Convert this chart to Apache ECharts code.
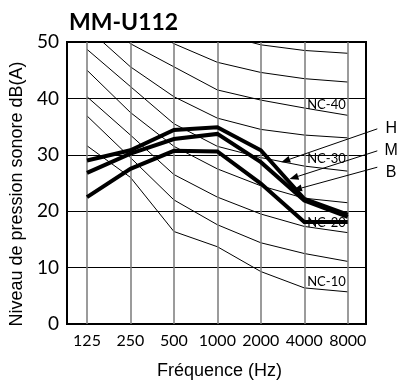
<!DOCTYPE html>
<html><head><meta charset="utf-8">
<script src="https://cdn.jsdelivr.net/npm/echarts@6/dist/echarts.min.js"></script>
<style>html,body{margin:0;padding:0;background:#fff}#c{width:403px;height:385px}</style>
</head><body><div id="c"></div>
<script>
// Categories (octave bands, Hz)
const freqs = ['125', '250', '500', '1000', '2000', '4000', '8000'];
const yTicks = [0, 10, 20, 30, 40, 50];

// Unit sound levels dB(A) – fan speeds
const speedH = [29.0, 30.8, 34.4, 34.9, 30.8, 22.2, 19.4];
const speedM = [26.8, 30.2, 32.8, 33.7, 28.7, 21.9, 19.0];
const speedB = [22.5, 27.5, 30.7, 30.6, 24.9, 18.1, 18.1];

// NC reference curves
const nc10 = [31.6, 26.0, 16.4, 13.7, 9.3, 6.4, 5.7];
const nc15 = [36.9, 29.5, 22.0, 17.6, 14.4, 12.5, 11.1];
const nc20 = [40.3, 33.5, 26.5, 22.5, 19.5, 17.3, 16.2];
const nc25 = [45.0, 37.5, 31.5, 27.5, 24.5, 22.3, 21.5];
const nc30 = [48.7, 42.1, 35.5, 31.5, 29.5, 28.0, 27.1];
const nc35 = [52.5, 45.6, 40.3, 36.5, 34.5, 33.5, 33.0];
const nc40 = [56.5, 49.7, 45.6, 41.5, 39.7, 38.3, 37.0];
const nc45 = [60.5, 54.5, 49.7, 46.4, 44.6, 43.5, 42.9];
const nc50 = [64.5, 58.5, 54.5, 51.5, 49.5, 48.5, 48.0];

// NC labels (text + anchor in data space: band index, dB)
const ncLabelNames = ['NC-40', 'NC-30', 'NC-20', 'NC-10'];
const ncLabelAt = [[5.51, 38.9], [5.51, 29.3], [5.51, 18.0], [5.51, 7.4]];

// Callouts H / M / B (data space)
const calloutNames = ['H', 'M', 'B'];
const calloutTip = [[4.47, 28.7], [4.66, 25.7], [4.74, 23.7]];
const calloutStart = [[6.68, 34.6], [6.68, 30.7], [6.68, 27.8]];
const calloutText = [[7.0, 34.6], [7.0, 30.7], [7.0, 26.9]];

const toPts = arr => arr.map((v, i) => [i, v]);

const chart = echarts.init(document.getElementById('c'), null, {renderer: 'canvas'});

const ncSets = [nc10, nc15, nc20, nc25, nc30, nc35, nc40, nc45, nc50];
const series = [];
ncSets.forEach((s, k) => {
  series.push({
    type: 'line', data: toPts(s), symbol: 'none', silent: true, z: 2,
    lineStyle: {color: '#000', width: 1}, animation: false
  });
});
// vertical grid lines & NC labels
series.push({
  type: 'line', data: [], symbol: 'none', silent: true, z: 1, animation: false,
  markLine: {
    silent: true, symbol: ['none', 'none'], animation: false,
    label: {show: false},
    lineStyle: {color: '#7a7a7a', width: 1.5, type: 'solid'},
    data: freqs.map((f, i) => ({xAxis: i}))
  },
  markPoint: {
    silent: true, animation: false, symbol: 'circle', symbolSize: 0,
    label: {show: true, position: 'inside', formatter: p => p.name,
      fontFamily: 'Lato', fontSize: 13, color: '#000'},
    data: ncLabelNames.map((n, i) => ({name: n, coord: ncLabelAt[i]}))
  }
});
[speedB, speedM, speedH].forEach(s => {
  series.push({
    type: 'line', data: toPts(s), symbol: 'none', silent: true, z: 5, animation: false,
    lineStyle: {color: '#000', width: 4, join: 'miter'}
  });
});

chart.setOption({
  animation: false,
  title: {text: 'MM-U112', left: 64, top: 6,
    textStyle: {fontFamily: 'Lato', fontWeight: 'bold', fontSize: 23, color: '#000'}},
  grid: {left: 67, top: 42, width: 299, height: 282, show: true,
    borderColor: '#000', borderWidth: 2, backgroundColor: 'transparent'},
  xAxis: {
    type: 'value', min: -0.46, max: 6.42,
    name: 'Fréquence (Hz)', nameLocation: 'middle', nameGap: 38,
    nameTextStyle: {fontFamily: 'Liberation Sans', fontSize: 18, color: '#000', padding: [0, 0, 0, 6]},
    axisLine: {show: false}, axisTick: {show: false}, splitLine: {show: false},
    axisLabel: {customValues: freqs.map((f, i) => i), formatter: v => freqs[Math.round(v)],
      fontFamily: 'Lato', fontSize: 16, color: '#000', margin: 9}
  },
  yAxis: {
    type: 'value', min: yTicks[0], max: yTicks[yTicks.length - 1], interval: 10,
    name: 'Niveau de pression sonore dB(A)', nameLocation: 'middle', nameGap: 39,
    nameTextStyle: {fontFamily: 'Liberation Sans', fontSize: 18, color: '#000', padding: [0, 22, 0, 0]},
    axisLine: {show: false}, axisTick: {show: false},
    splitLine: {show: true, lineStyle: {color: '#000', width: 1}},
    axisLabel: {fontFamily: 'Lato', fontSize: 19, color: '#000', margin: 8}
  },
  series: series
});

// callouts
const g = [];
calloutNames.forEach((n, i) => {
  const t = chart.convertToPixel({gridIndex: 0}, calloutTip[i]);
  const s = chart.convertToPixel({gridIndex: 0}, calloutStart[i]);
  const p = chart.convertToPixel({gridIndex: 0}, calloutText[i]);
  const dx = s[0] - t[0], dy = s[1] - t[1];
  const L = Math.hypot(dx, dy), ux = dx / L, uy = dy / L;
  const al = 9, aw = 3.5;
  const bx = t[0] + ux * al, by = t[1] + uy * al;
  g.push({type: 'line', silent: true, z: 10,
    shape: {x1: s[0], y1: s[1], x2: bx, y2: by}, style: {stroke: '#000', lineWidth: 1}});
  g.push({type: 'polygon', silent: true, z: 10,
    shape: {points: [[t[0], t[1]], [bx - uy * aw, by + ux * aw], [bx + uy * aw, by - ux * aw]]},
    style: {fill: '#000'}});
  g.push({type: 'text', silent: true, z: 10, x: p[0], y: p[1],
    style: {text: n, fontFamily: 'Liberation Sans', fontSize: 16, fill: '#000', align: 'center', verticalAlign: 'middle'}});
});
chart.setOption({graphic: g});
</script></body></html>
